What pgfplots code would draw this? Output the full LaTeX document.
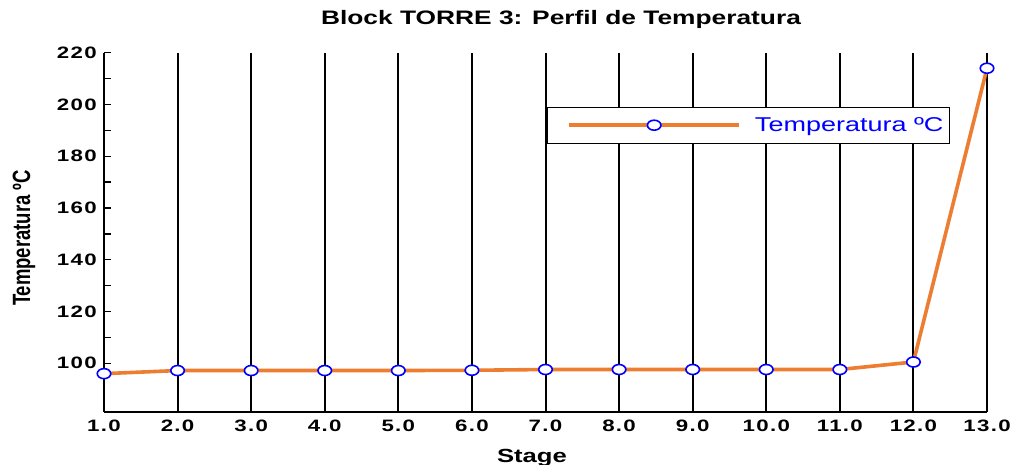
\documentclass[border=0pt]{standalone}
\usepackage{fontspec}
\setmainfont{Liberation Sans}
\newfontfamily\wide[FakeStretch=1.35]{Liberation Sans}
\newfontfamily\tickf[FakeStretch=1.35,LetterSpace=8]{Liberation Sans}
\usepackage{pgfplots}
\pgfplotsset{compat=1.18}
\definecolor{lineorange}{RGB}{237,125,49}
\definecolor{mkblue}{RGB}{0,0,255}

\begin{document}
\begin{tikzpicture}[x=1pt,y=1pt]
\useasboundingbox (0,0) rectangle (1022,465);
\begin{axis}[
  at={(104pt,53.3pt)}, anchor=south west,
  width=883pt, height=359pt, scale only axis,
  xmin=1, xmax=13, ymin=81.3, ymax=220,
  clip=false,
  axis x line=bottom, axis y line=left,
  axis line style={-, line width=2pt, black},
  xtick={1,...,13},
  xticklabels={1.0,2.0,3.0,4.0,5.0,6.0,7.0,8.0,9.0,10.0,11.0,12.0,13.0},
  ytick={100,120,140,160,180,200,220},
  yticklabels={100,120,140,160,180,200,220},
  minor y tick num=1,
  tick align=inside,
  major tick length=7pt, minor tick length=7pt,
  every tick/.style={line width=1.4pt, black},
  xmajorgrids,
  grid style={black, line width=2pt},
  ticklabel style={font=\tickf\bfseries\fontsize{16.5}{18}\selectfont, inner sep=0pt},
  xticklabel style={yshift=-8pt},
  yticklabel style={xshift=-7pt},
  legend style={at={(axis cs:7.02,199.0)}, anchor=north west,
    draw=black, line width=0.8pt,
    inner xsep=5pt, inner ysep=9pt, column sep=13pt,
    font=\wide\fontsize{20}{22}\selectfont, text=mkblue,
    nodes={inner sep=1pt}},
  legend image code/.code={%
    \path (0pt,0pt);
    \draw[mark repeat=2, mark phase=2, #1] plot coordinates {(15pt,0pt)(100pt,0pt)(185pt,0pt)};},
]
\addplot[lineorange, line width=3.6pt, mark=*, mark size=5pt,
  mark options={fill=white, draw=mkblue, line width=1.6pt, xscale=1.35}]
  coordinates {
  (1,96.0) (2,97.2) (3,97.2) (4,97.2) (5,97.2) (6,97.3) (7,97.6)
  (8,97.6) (9,97.6) (10,97.6) (11,97.6) (12,100.5) (13,214.0)
  };
\addlegendentry{Temperatura ºC}
\draw[line width=3pt, black] (axis cs:7.02,199.0) -- (axis cs:7.02,185.1);
\end{axis}
\node[anchor=center, font=\wide\bfseries\fontsize{19.5}{22}\selectfont] at (561,446) {Block TORRE 3: Perfil de Temperatura};
\node[anchor=base, font=\wide\bfseries\fontsize{19}{22}\selectfont] at (532,2) {Stage};
\node[anchor=center, rotate=90] at (24,227) {\scalebox{1}[1.35]{\bfseries\fontsize{18.5}{20}\selectfont Temperatura ºC}};
\end{tikzpicture}
\end{document}
